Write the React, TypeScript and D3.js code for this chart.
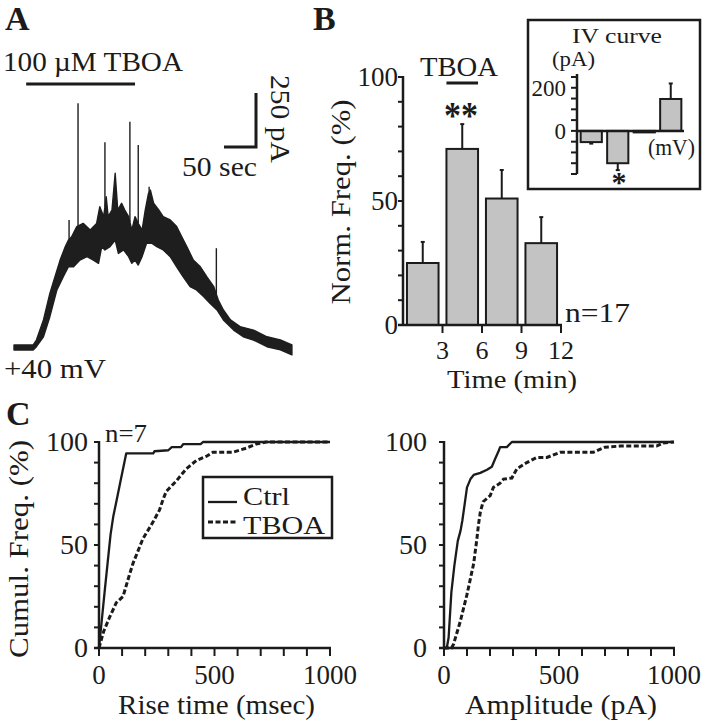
import React, { useEffect } from 'react';
import * as d3 from 'd3';

const FONT = 'Liberation Serif, Times New Roman, Times, serif';
const INK = '#1b1b1b';
const BAR_FILL = '#c3c3c3';

// ---------- Panel A : current trace at +40 mV (time s, current pA) ----------
const traceTopTime = [0, 30, 35, 46, 56, 64, 72, 80, 85, 90, 98, 108, 119, 129, 134, 140, 144, 147, 153, 158, 162, 168, 173, 179, 184, 189, 194, 200, 205, 210, 213, 218, 226, 233, 244, 254, 262, 270, 280, 291, 301, 312, 319, 327, 338, 353, 374, 395, 416, 434];
const traceTopCurrent = [14, 14, 37, 130, 253, 330, 407, 469, 500, 515, 562, 577, 546, 577, 654, 608, 700, 608, 639, 809, 639, 670, 639, 608, 546, 608, 577, 546, 639, 716, 731, 670, 639, 608, 593, 562, 515, 469, 407, 376, 330, 284, 222, 176, 130, 99, 83, 52, 37, 14];
const traceBottomTime = [0, 30, 35, 46, 56, 67, 77, 85, 93, 103, 114, 124, 132, 137, 142, 150, 158, 163, 171, 179, 184, 189, 194, 200, 207, 215, 223, 233, 244, 254, 264, 275, 285, 296, 306, 317, 327, 343, 358, 374, 395, 416, 434];
const traceBottomCurrent = [-9, -9, 6, 52, 145, 269, 330, 376, 376, 407, 423, 407, 392, 469, 454, 469, 500, 438, 454, 423, 392, 407, 384, 423, 485, 485, 469, 454, 423, 376, 330, 284, 269, 238, 207, 176, 130, 83, 52, 37, 6, -9, -32];
const spikeTime = [86, 100, 142, 181, 194, 211, 316];
const spikePeak = [593, 1133, 952, 1048, 940, 747, 462];
const tboaStart = 19;
const tboaEnd = 189;
const scaleBarSec = 50;
const scaleBarPA = 250;

// ---------- Panel B : normalized frequency ----------
const freqTimeTicks = [3, 6, 9, 12];
const freqYLabels = [0, 50, 100];
const freqYMinor = [0, 10, 20, 30, 40, 50, 60, 70, 80, 90, 100];
const freqBinCenters = [1.5, 4.5, 7.5, 10.5];
const freqValues = [25, 71, 51, 33];
const freqErrors = [8.5, 10, 11.5, 10.5];

// inset IV curve
const ivVoltages = ['-80', '-40', '0', '+40'];
const ivCurrents = [-52, -150, -7, 148];
const ivErrors = [7, 32, 0, 72];
const ivYLabels = [0, 200];
const ivYMinor = [-200, -150, -100, -50, 0, 50, 100, 150, 200, 250];

// ---------- Panel C : cumulative distributions ----------
const cumTicksMajor = [0, 50, 100];
const cumTicksMinor = [0, 10, 20, 30, 40, 50, 60, 70, 80, 90, 100];
const xTicksMinor = [0, 100, 200, 300, 400, 500, 600, 700, 800, 900, 1000];
const xTicksMajor = [0, 500, 1000];

const riseCtrlTime = [0, 25, 50, 62, 75, 95, 118, 235, 240, 300, 315, 355, 365, 440, 450, 1000];
const riseCtrlFreq = [0, 28, 55, 64, 71, 82, 94.5, 94.5, 95.5, 96, 97.5, 97.5, 99, 99, 100, 100];
const riseTboaTime = [0, 20, 46, 75, 104, 133, 147, 190, 233, 262, 277, 291, 334, 378, 421, 464, 493, 579, 637, 680, 723, 1000];
const riseTboaFreq = [0, 8, 15, 22, 25, 36, 41, 53, 61, 67, 72, 76, 81, 87, 91, 93, 95, 95, 97, 99, 100, 100];

const ampCtrlPA = [0, 12, 20, 32, 45, 60, 72, 80, 90, 100, 115, 129, 158, 187, 208, 223, 237, 244, 273, 295, 1000];
const ampCtrlFreq = [0, 0, 5, 27, 40, 52, 57, 62, 70, 78, 82, 84, 85, 86.5, 88, 92, 95.5, 97.5, 97.5, 100, 100];
const ampTboaPA = [0, 33, 42, 71, 100, 129, 143, 150, 158, 170, 201, 215, 244, 259, 295, 317, 360, 403, 447, 505, 649, 700, 765, 924, 952, 1000];
const ampTboaFreq = [0, 0, 2, 13, 26, 41, 53, 60, 66, 71, 74, 78, 80, 82, 82.5, 87, 90, 92.5, 92.5, 95, 95, 97.5, 98, 98, 99.5, 100];

type TProps = {
  x: number; y: number; size?: number; anchor?: string; weight?: string;
  len?: number; rotate?: number; children: React.ReactNode;
};
function T({ x, y, size = 27, anchor = 'start', weight = 'normal', len, rotate, children }: TProps) {
  const tr = rotate ? `translate(${x},${y}) rotate(${rotate})` : undefined;
  return (
    <text
      x={rotate ? 0 : x}
      y={rotate ? 0 : y}
      transform={tr}
      style={{ fontFamily: FONT }}
      fontSize={size}
      textAnchor={anchor as any}
      fontWeight={weight}
      fill={INK}
      textLength={len}
      lengthAdjust={len ? 'spacingAndGlyphs' : undefined}
    >
      {children}
    </text>
  );
}

function PanelA() {
  const xA = d3.scaleLinear().domain([0, 431]).range([14, 290]);
  const yA = d3.scaleLinear().domain([0, 250]).range([348, 294]);
  const top = traceTopTime.map((t, i) => [xA(t), yA(traceTopCurrent[i])] as [number, number]);
  const bot = traceBottomTime.map((t, i) => [xA(t), yA(traceBottomCurrent[i])] as [number, number]);
  const poly = d3.line()([...top, ...bot.reverse()]) + 'Z';
  const topInterp = d3.scaleLinear().domain(traceTopTime).range(traceTopCurrent);
  const cornerX = 256, cornerY = 147;
  const sbW = xA(scaleBarSec) - xA(0);
  const sbH = yA(0) - yA(scaleBarPA);
  return (
    <g>
      <T x={5} y={30} size={34} weight="bold">A</T>
      <T x={3} y={71} size={27} len={180}>100 µM TBOA</T>
      <line x1={xA(tboaStart)} x2={xA(tboaEnd)} y1={84} y2={84} stroke={INK} strokeWidth={3} />
      <path d={poly} fill="#1e1e1e" stroke="#1e1e1e" strokeWidth={1.4} strokeLinejoin="round" />
      {spikeTime.map((t, i) => (
        <line key={i} x1={xA(t)} x2={xA(t)} y1={yA(spikePeak[i])} y2={yA(topInterp(t))} stroke="#1e1e1e" strokeWidth={1.4} />
      ))}
      <path d={`M${cornerX - sbW},${cornerY}H${cornerX}V${cornerY - sbH}`} fill="none" stroke={INK} strokeWidth={3} />
      <T x={271} y={119} size={27} anchor="middle" rotate={90} len={88}>250 pA</T>
      <T x={182} y={176} size={27} len={75}>50 sec</T>
      <T x={4} y={378} size={28} len={102}>+40 mV</T>
    </g>
  );
}

function PanelB() {
  const xB = d3.scaleLinear().domain([0, 12]).range([403, 561]);
  const yB = d3.scaleLinear().domain([0, 100]).range([325, 77]);
  const bw = 2.4;
  return (
    <g>
      <T x={313} y={30} size={34} weight="bold">B</T>
      {freqBinCenters.map((c, i) => {
        const x0 = xB(c - bw / 2), x1 = xB(c + bw / 2);
        const yt = yB(freqValues[i]);
        const ye = yB(freqValues[i] + freqErrors[i]);
        return (
          <g key={i}>
            <line x1={xB(c)} x2={xB(c)} y1={yt} y2={ye} stroke={INK} strokeWidth={2} />
            <line x1={xB(c) - 2} x2={xB(c) + 2} y1={ye} y2={ye} stroke={INK} strokeWidth={2} />
            <rect x={x0} y={yt} width={x1 - x0} height={yB(0) - yt} fill={BAR_FILL} stroke={INK} strokeWidth={2} />
          </g>
        );
      })}
      <line x1={xB(0)} x2={xB(0)} y1={yB(0) + 1} y2={yB(100) - 1} stroke={INK} strokeWidth={2.5} />
      <line x1={xB(0) - 5} x2={xB(12) + 1} y1={yB(0)} y2={yB(0)} stroke={INK} strokeWidth={2.5} />
      {freqYMinor.map((v) => (
        <line key={v} x1={xB(0) - 5} x2={xB(0)} y1={yB(v)} y2={yB(v)} stroke={INK} strokeWidth={2} />
      ))}
      {freqTimeTicks.map((v) => (
        <line key={v} x1={xB(v)} x2={xB(v)} y1={yB(0)} y2={yB(0) + 8} stroke={INK} strokeWidth={2} />
      ))}
      {freqYLabels.map((v) => (
        <T key={v} x={398} y={yB(v) + 9} size={27} anchor="end">{v}</T>
      ))}
      {freqTimeTicks.map((v) => (
        <T key={v} x={xB(v)} y={359} size={26} anchor="middle">{v}</T>
      ))}
      <T x={512} y={388} size={26} anchor="middle" len={130}>Time (min)</T>
      <T x={350} y={202} size={27} anchor="middle" rotate={-90} len={205}>Norm. Freq. (%)</T>
      <T x={565} y={322} size={27} len={65}>n=17</T>
      <T x={459} y={76} size={27} anchor="middle" len={78}>TBOA</T>
      <line x1={xB(3.3)} x2={xB(5.7)} y1={83} y2={83} stroke={INK} strokeWidth={3} />
      <T x={461} y={128} size={38} anchor="middle" weight="bold" len={34}>**</T>
      <Inset />
    </g>
  );
}

function Inset() {
  const xI = d3.scaleBand<string>().domain(ivVoltages).range([578, 684]).paddingInner(0.2).paddingOuter(0.1);
  const yI = d3.scaleLinear().domain([-200, 250]).range([174, 77]);
  return (
    <g>
      <rect x={528} y={20} width={172} height={169} fill="none" stroke={INK} strokeWidth={2.5} />
      <T x={617} y={43} size={22} anchor="middle" len={90}>IV curve</T>
      <T x={552} y={66} size={20} len={43}>(pA)</T>
      {ivVoltages.map((v, i) => {
        const val = ivCurrents[i];
        const x0 = xI(v)!;
        const w = xI.bandwidth();
        const cx = x0 + w / 2;
        const yv = yI(val), y0 = yI(0);
        const sign = val >= 0 ? 1 : -1;
        const ye = yI(val + sign * ivErrors[i]);
        return (
          <g key={v}>
            {ivErrors[i] > 0 && (
              <>
                <line x1={cx} x2={cx} y1={yv} y2={ye} stroke={INK} strokeWidth={2} />
                <line x1={cx - 2} x2={cx + 2} y1={ye} y2={ye} stroke={INK} strokeWidth={2} />
              </>
            )}
            <rect x={x0} y={Math.min(yv, y0)} width={w} height={Math.max(Math.abs(yv - y0), 0.5)} fill={BAR_FILL} stroke={INK} strokeWidth={2} />
          </g>
        );
      })}
      <line x1={577} x2={577} y1={yI(-200)} y2={yI(250) - 3} stroke={INK} strokeWidth={2.5} />
      <line x1={577} x2={684} y1={yI(0)} y2={yI(0)} stroke={INK} strokeWidth={2.5} />
      {ivYMinor.map((v) => (
        <line key={v} x1={571} x2={577} y1={yI(v)} y2={yI(v)} stroke={INK} strokeWidth={2} />
      ))}
      {ivYLabels.map((v) => (
        <T key={v} x={566} y={yI(v) + 8} size={23} anchor="end">{v}</T>
      ))}
      <T x={648} y={155} size={23} len={47}>(mV)</T>
      <T x={619} y={192} size={30} anchor="middle" weight="bold">*</T>
    </g>
  );
}

type CumProps = {
  x0: number; x1: number; xlabel: string; xlabelLen: number;
  ctrlX: number[]; ctrlY: number[]; tboaX: number[]; tboaY: number[];
  showYTitle: boolean; ylabelRight: number;
};
function CumPlot({ x0, x1, xlabel, xlabelLen, ctrlX, ctrlY, tboaX, tboaY, showYTitle, ylabelRight }: CumProps) {
  const x = d3.scaleLinear().domain([0, 1000]).range([x0, x1]);
  const y = d3.scaleLinear().domain([0, 100]).range([648, 442]);
  const line = d3.line<[number, number]>().x((d) => x(d[0])).y((d) => y(d[1]));
  const ctrl = line(ctrlX.map((v, i) => [v, ctrlY[i]] as [number, number]));
  const tboa = line(tboaX.map((v, i) => [v, tboaY[i]] as [number, number]));
  return (
    <g>
      <path d={tboa!} fill="none" stroke={INK} strokeWidth={3} strokeDasharray="5 2.5" />
      <path d={ctrl!} fill="none" stroke={INK} strokeWidth={2.3} strokeLinejoin="round" />
      <line x1={x(0)} x2={x(0)} y1={y(0) + 1} y2={y(100) - 1} stroke={INK} strokeWidth={2.5} />
      <line x1={x(0) - 5} x2={x(1000) + 1} y1={y(0)} y2={y(0)} stroke={INK} strokeWidth={2.5} />
      {cumTicksMinor.map((v) => (
        <line key={v} x1={x(0) - 5} x2={x(0)} y1={y(v)} y2={y(v)} stroke={INK} strokeWidth={2} />
      ))}
      {xTicksMinor.map((v) => (
        <line key={v} x1={x(v)} x2={x(v)} y1={y(0)} y2={y(0) + 8} stroke={INK} strokeWidth={2} />
      ))}
      {cumTicksMajor.map((v) => (
        <T key={v} x={ylabelRight} y={y(v) + 9} size={28} anchor="end">{v}</T>
      ))}
      {xTicksMajor.map((v) => (
        <T key={v} x={x(v)} y={684} size={27} anchor="middle">{v}</T>
      ))}
      <T x={(x0 + x1) / 2 + 2} y={714} size={27} anchor="middle" len={xlabelLen}>{xlabel}</T>
      {showYTitle && <T x={28} y={549} size={28} anchor="middle" rotate={-90} len={218}>Cumul. Freq. (%)</T>}
    </g>
  );
}

function PanelC() {
  return (
    <g>
      <T x={6} y={425} size={34} weight="bold">C</T>
      <T x={105} y={442} size={26} len={42}>n=7</T>
      <CumPlot x0={99} x1={330} xlabel="Rise time (msec)" xlabelLen={197}
        ctrlX={riseCtrlTime} ctrlY={riseCtrlFreq} tboaX={riseTboaTime} tboaY={riseTboaFreq}
        showYTitle={true} ylabelRight={88} />
      <CumPlot x0={444} x1={674} xlabel="Amplitude (pA)" xlabelLen={192}
        ctrlX={ampCtrlPA} ctrlY={ampCtrlFreq} tboaX={ampTboaPA} tboaY={ampTboaFreq}
        showYTitle={false} ylabelRight={427} />
      <rect x={203} y={477} width={129} height={61} fill="#fff" stroke={INK} strokeWidth={2.5} />
      <line x1={208} x2={237} y1={502} y2={502} stroke={INK} strokeWidth={2.3} />
      <line x1={208} x2={237} y1={522} y2={522} stroke={INK} strokeWidth={3} strokeDasharray="5 2.5" />
      <T x={243} y={505} size={26} len={47}>Ctrl</T>
      <T x={243} y={534} size={26} len={82}>TBOA</T>
    </g>
  );
}

export default function App() {
  useEffect(() => {
    document.body.style.margin = '0';
  }, []);
  return (
    <svg width={710} height={720} viewBox="0 0 710 720" style={{ position: 'absolute', left: 0, top: 0, background: '#fff' }}>
      <rect x={0} y={0} width={710} height={720} fill="#fff" />
      <PanelA />
      <PanelB />
      <PanelC />
    </svg>
  );
}
